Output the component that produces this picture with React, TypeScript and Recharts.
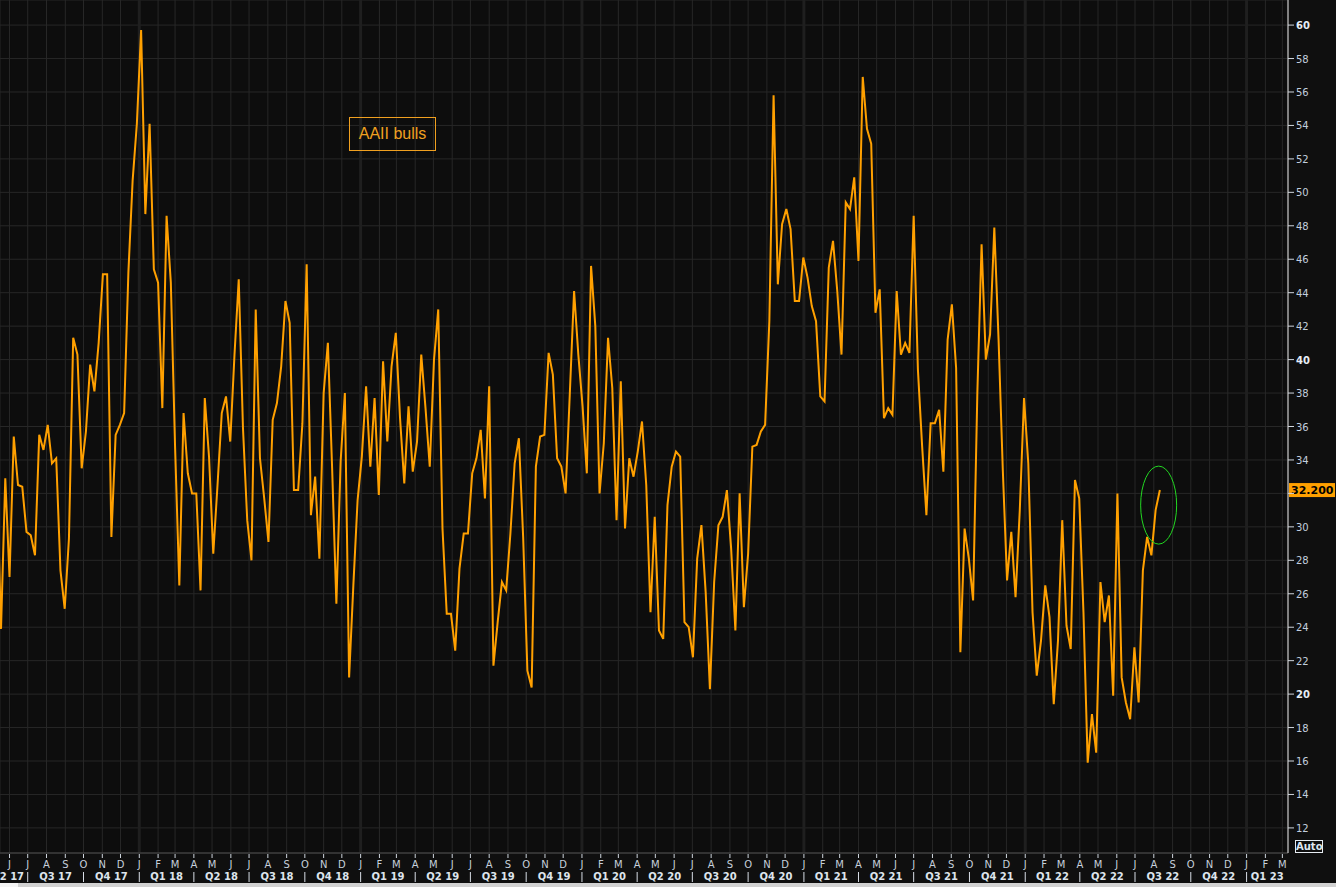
import React from "react";
import { LineChart, Line, XAxis, YAxis, CartesianGrid, ReferenceLine, ReferenceDot } from "recharts";

const DAY = 86400000;
const dayOf = (y: number, m: number, d: number) => Date.UTC(y, m - 1, d) / DAY;

// AAII bullish sentiment (%), one reading per week, Thursdays from 11 May 2017
const FIRST_WEEK = dayOf(2017, 5, 11);
const bulls2017 = [33.0, 23.9, 32.9, 27.0, 35.4, 32.5, 32.4, 29.7, 29.5, 28.3, 35.5, 34.6, 36.1, 33.8, 34.1, 27.4, 25.1, 29.3, 41.3, 40.3, 33.5, 35.7, 39.7, 38.1, 41.0, 45.1, 45.1, 29.4, 35.5, 36.1, 36.8, 45.2, 50.7, 54.1];
const bulls2018 = [59.7, 48.7, 54.1, 45.4, 44.6, 37.1, 48.6, 44.6, 34.8, 26.5, 36.8, 33.2, 32.0, 32.0, 26.2, 37.7, 34.2, 28.4, 32.5, 36.8, 37.8, 35.1, 40.3, 44.8, 35.9, 30.4, 28.0, 43.0, 34.1, 31.7, 29.1, 36.4, 37.4, 39.6, 43.5, 42.2, 32.2, 32.2, 36.2, 45.7, 30.7, 33.0, 28.1, 38.0, 41.0, 33.5, 25.4, 33.9, 38.0, 21.0, 26.5, 31.6];
const bulls2019 = [34.2, 38.4, 33.6, 37.7, 31.9, 39.9, 35.1, 39.6, 41.6, 36.5, 32.6, 37.2, 33.3, 35.1, 40.3, 37.1, 33.6, 40.0, 43.0, 29.9, 24.8, 24.8, 22.6, 27.5, 29.6, 29.6, 33.2, 34.1, 35.8, 31.7, 38.4, 21.7, 24.3, 26.7, 26.2, 29.6, 33.8, 35.3, 29.4, 21.4, 20.4, 33.6, 35.4, 35.5, 40.4, 39.1, 34.1, 33.6, 32.0, 38.0, 44.1, 40.3];
const bulls2020 = [37.2, 33.2, 45.6, 42.0, 32.0, 35.0, 41.3, 38.3, 30.4, 38.7, 29.9, 34.1, 33.0, 34.5, 36.3, 32.5, 24.9, 30.6, 23.8, 23.3, 31.3, 33.6, 34.5, 34.2, 24.3, 24.0, 22.2, 28.1, 30.1, 26.1, 20.3, 26.7, 30.1, 30.6, 32.2, 28.7, 23.8, 32.0, 25.2, 28.4, 34.8, 34.9, 35.7, 36.1, 42.3, 55.8, 44.5, 48.1, 49.0, 47.8, 43.5, 43.5, 46.1];
const bulls2021 = [44.9, 43.2, 42.3, 37.8, 37.5, 45.5, 47.1, 44.1, 40.3, 49.4, 49.0, 50.9, 45.9, 56.9, 53.8, 52.9, 42.8, 44.2, 36.5, 37.1, 36.7, 44.1, 40.3, 41.0, 40.4, 48.6, 39.4, 34.8, 30.7, 36.2, 36.2, 37.0, 33.3, 41.2, 43.3, 39.5, 22.5, 29.9, 28.1, 25.6, 38.0, 46.9, 40.0, 41.5, 47.9, 41.2, 33.4, 26.8, 29.7, 25.8, 31.0, 37.7];
const bulls2022 = [33.8, 24.9, 21.1, 23.2, 26.5, 24.6, 19.4, 23.2, 30.4, 24.1, 22.7, 32.8, 31.7, 24.9, 15.9, 18.8, 16.5, 26.7, 24.3, 25.9, 19.9, 32.0, 21.0, 19.5, 18.5, 22.8, 19.5, 27.4, 29.4, 28.3, 31.0, 32.2];

const LAST_VALUE = 32.2;
const SERIES_NAME = "AAII bulls";

const MONTH_LETTERS = ["J", "F", "M", "A", "M", "J", "J", "A", "S", "O", "N", "D"];
const Y_TICKS = [12, 14, 16, 18, 20, 22, 24, 26, 28, 30, 32, 34, 36, 38, 40, 42, 44, 46, 48, 50, 52, 54, 56, 58, 60];
const BOLD_Y = [20, 40, 60];

// visible window of the chart
const X_MIN = dayOf(2017, 5, 16) + 0.3;
const X_MAX = dayOf(2023, 3, 10) + 0.3;

const allBulls = [...bulls2017, ...bulls2018, ...bulls2019, ...bulls2020, ...bulls2021, ...bulls2022];
const data = allBulls.map((v, i) => ({ t: FIRST_WEEK + 7 * i, v }));

const monthTicks: number[] = [];
for (let y = 2017; y <= 2023; y++) {
  for (let m = 1; m <= 12; m++) {
    const d = dayOf(y, m, 1);
    if (d > X_MIN && d < X_MAX) monthTicks.push(d);
  }
}

// quarter axis: separators at quarter starts, labels centred in the visible part
const quarterSep = new Set<number>();
const quarterLabel = new Map<number, string>();
const quarterAnchor = new Map<number, string>();
for (let y = 2017; y <= 2023; y++) {
  for (let q = 0; q < 4; q++) {
    const s = dayOf(y, q * 3 + 1, 1);
    const e = q === 3 ? dayOf(y + 1, 1, 1) : dayOf(y, q * 3 + 4, 1);
    if (e <= X_MIN || s >= X_MAX) continue;
    if (s > X_MIN) quarterSep.add(s);
    if (s < X_MIN) {
      // first quarter is cut by the left edge: text ends just before the separator
      quarterLabel.set(e - 6, `Q${q + 1} ${String(y).slice(2)}`);
      quarterAnchor.set(e - 6, "end");
    } else {
      const c = (s + Math.min(e, X_MAX)) / 2;
      quarterLabel.set(c, `Q${q + 1} ${String(y).slice(2)}`);
      quarterAnchor.set(c, "middle");
    }
  }
}
const quarterTicks = [...quarterSep, ...quarterLabel.keys()].sort((a, b) => a - b);

const yearLines = [2018, 2019, 2020, 2021, 2022, 2023].map((y) => dayOf(y, 1, 1));

const FONT = "DejaVu Sans, Verdana, sans-serif";

const MonthTick = (props: any) => {
  const { x, y, payload } = props;
  const m = new Date(payload.value * DAY).getUTCMonth();
  return (
    <g>
      <line x1={x} x2={x} y1={y + 1} y2={y + 5} stroke="#cfd6de" />
      <text x={x} y={y + 15} textAnchor="middle" fill="#c6d0dc" fontSize={10} fontFamily={FONT}>
        {MONTH_LETTERS[m]}
      </text>
    </g>
  );
};

const QuarterTick = (props: any) => {
  const { x, y, payload } = props;
  if (quarterSep.has(payload.value)) {
    return <line x1={x} x2={x} y1={y + 3} y2={y + 13} stroke="#d8dee6" />;
  }
  return (
    <text
      x={x}
      y={y + 11}
      textAnchor={quarterAnchor.get(payload.value) as any}
      fill="#dde4ec"
      fontSize={10}
      fontWeight="bold"
      fontFamily={FONT}
    >
      {quarterLabel.get(payload.value)}
    </text>
  );
};

const ValueTick = (props: any) => {
  const { x, y, payload } = props;
  const bold = BOLD_Y.includes(payload.value);
  // the 32 label sits under the last-value box, as in the source chart
  const hidden = Math.abs(payload.value - LAST_VALUE) < 1;
  return (
    <g>
      <line x1={x} x2={x + 6} y1={y} y2={y} stroke="#d0d6de" />
      {!hidden && (
        <text x={x + 8} y={y + 4} fill={bold ? "#e6edf6" : "#c2cede"} fontSize={10} fontWeight={bold ? "bold" : "normal"} fontFamily={FONT}>
          {payload.value}
        </text>
      )}
    </g>
  );
};

const LastLabel = (props: any) => {
  const { viewBox } = props;
  const x = viewBox.x + viewBox.width + 1;
  const y = viewBox.y;
  return (
    <g>
      <rect x={x} y={y - 7} width={46} height={14} fill="#ffa000" />
      <text x={x + 2} y={y + 4} fill="#000" fontSize={11} fontWeight="bold" fontFamily={FONT}>
        {LAST_VALUE.toFixed(3)}
      </text>
    </g>
  );
};

export default function App() {
  return (
    <div style={{ position: "absolute", left: 0, top: 0, width: 1336, height: 887, background: "#0f0f0f", overflow: "hidden" }}>
      <LineChart width={1336} height={887} data={data} margin={{ top: 0, right: 0, bottom: 0, left: 0 }}>
        <CartesianGrid xAxisId="m" stroke="#272727" strokeWidth={1} fill="#0d0d0d" />
        <XAxis
          xAxisId="m"
          type="number"
          dataKey="t"
          domain={[X_MIN, X_MAX]}
          allowDataOverflow
          ticks={monthTicks}
          interval={0}
          height={16}
          axisLine={{ stroke: "#4c4c4c" }}
          tickLine={false}
          tickSize={0}
          tickMargin={0}
          tick={<MonthTick />}
        />
        <XAxis
          xAxisId="q"
          type="number"
          dataKey="t"
          domain={[X_MIN, X_MAX]}
          allowDataOverflow
          ticks={quarterTicks}
          interval={0}
          height={18}
          axisLine={false}
          tickLine={false}
          tickSize={0}
          tickMargin={0}
          tick={<QuarterTick />}
        />
        <YAxis
          orientation="right"
          type="number"
          domain={[10.5, 61.5]}
          allowDataOverflow
          ticks={Y_TICKS}
          interval={0}
          width={48}
          axisLine={{ stroke: "#e8e8e8" }}
          tickLine={false}
          tickSize={0}
          tickMargin={0}
          tick={<ValueTick />}
        />
        {yearLines.map((d) => (
          <ReferenceLine key={d} xAxisId="m" x={d} stroke="#1f1f1f" strokeWidth={3} />
        ))}
        <Line
          xAxisId="m"
          type="linear"
          dataKey="v"
          name={SERIES_NAME}
          stroke="#ffa000"
          strokeWidth={2}
          dot={false}
          activeDot={false}
          isAnimationActive={false}
        />
        <ReferenceLine xAxisId="m" y={LAST_VALUE} stroke="none" label={<LastLabel />} />
        <ReferenceDot
          xAxisId="m"
          x={dayOf(2022, 8, 9)}
          y={31.3}
          r={1}
          shape={(p: any) => <ellipse cx={p.cx} cy={p.cy} rx={18} ry={39} fill="none" stroke="#22d822" strokeWidth={1} />}
        />
      </LineChart>
      <div
        style={{
          position: "absolute",
          left: 349,
          top: 117,
          width: 87,
          height: 34,
          border: "1px solid #f0a020",
          color: "#f0a020",
          font: "16px 'Liberation Sans', Arial, sans-serif",
          display: "flex",
          alignItems: "center",
          justifyContent: "center",
          boxSizing: "border-box",
        }}
      >
        {SERIES_NAME}
      </div>
      <div
        style={{
          position: "absolute",
          left: 1295,
          top: 840,
          width: 28,
          height: 13,
          border: "1px solid #e6ecf2",
          color: "#dfe7f1",
          font: "bold 10px 'DejaVu Sans', Verdana, sans-serif",
          lineHeight: "11px",
          textAlign: "center",
          boxSizing: "border-box",
        }}
      >
        Auto
      </div>
      <div style={{ position: "absolute", left: 0, top: 883, width: 1336, height: 4, background: "#d2d2d2" }} />
      <div style={{ position: "absolute", left: 0, top: 883, width: 18, height: 4, background: "#f4f4f4" }} />
    </div>
  );
}
